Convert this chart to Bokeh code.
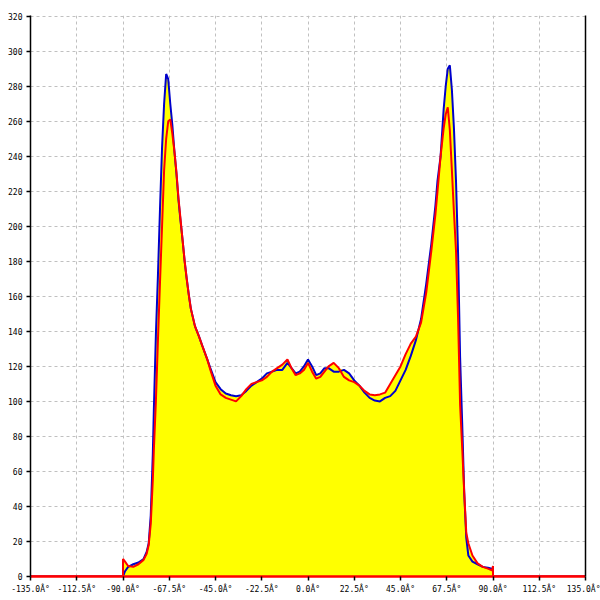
from bokeh.plotting import figure
from bokeh.models import Range1d, FixedTicker, LinearAxis, ColumnDataSource
from bokeh.embed import file_html
from bokeh.resources import INLINE

angle = [-135, -90.01, -90, -89, -87.5, -85, -82.5, -80, -78.5, -77.5, -76.5, -75.5, -75,
         -74, -73, -72, -71, -70, -69, -68, -67, -66, -65, -64, -63, -62, -61, -60, -59,
         -58, -57, -55, -53, -51.5, -49, -47.5, -45, -42.5, -40, -37.5, -35, -32.5, -30,
         -27.5, -25, -22.5, -20, -17.5, -15, -12.5, -10, -8, -6, -4, -2, 0, 2, 4, 6, 8,
         10, 12.5, 15, 17.5, 20, 22.5, 25, 27.5, 30, 32.5, 35, 37.5, 40, 42.5, 45, 47.5,
         50, 52.5, 55, 57.5, 60, 62, 63, 64.5, 66, 67, 68, 69, 70, 71, 72, 73, 74, 75,
         76, 77, 78, 80, 82.5, 85, 87.5, 89.5, 90, 90.01, 135]

blue = [0, 0, 0, 3, 5.5, 7, 8, 10, 14, 19, 35, 70, 95,
        138, 172, 210, 245, 270, 287, 284, 270, 258, 243, 230, 215, 203, 192, 180, 170,
        161, 153, 143, 137, 132, 124, 119, 111, 107, 104.5, 103.5, 103, 103.5, 106,
        109, 111, 113, 116, 117, 118, 118, 122, 119, 116, 117, 120, 124, 120, 115, 116, 119,
        119, 117, 117, 118, 116, 112, 109, 105, 102, 100.5, 100, 102, 103, 106, 112, 118,
        126, 135, 147, 167, 190, 212, 226, 240, 267, 280, 290, 292, 278, 256, 226, 185, 125, 88,
        48, 22, 12, 8.5, 7, 5.5, 5, 4.5, 3, 0, 0]

red = [0, 0, 10, 8.5, 6, 5.5, 7, 9.5, 13, 18, 30, 55, 72,
       100, 135, 168, 200, 232, 250, 260, 261, 253, 243, 231, 216, 204, 192, 180, 170,
       161, 153, 143, 137, 132, 124, 118, 109, 104, 102, 101, 100, 103, 107,
       110, 111, 112, 114, 117, 119, 121, 124, 119, 115, 116, 118, 122, 117, 113, 114, 117,
       120, 122, 119, 114, 112, 111, 109, 106, 104, 103.5, 104, 105, 110, 115, 120, 127,
       133, 137, 145, 162, 186, 207, 220, 240, 256, 264, 268, 255, 232, 208, 186, 148, 98, 74,
       48, 25, 19, 12, 7.5, 5.5, 4.5, 3.5, 6, 0, 0]

fill = [0, 0, 10, 8.5, 6, 7, 8, 10, 14, 19, 35, 70, 95,
        138, 172, 210, 245, 270, 287, 284, 270, 258, 243, 231, 216, 204, 192, 180, 170,
        161, 153, 143, 137, 132, 124, 119, 111, 107, 104.5, 103.5, 103, 103.5, 107,
        110, 111, 113, 116, 117, 119, 121, 124, 119, 116, 117, 120, 124, 120, 115, 116, 119,
        120, 122, 119, 118, 116, 112, 109, 106, 104, 103.5, 104, 105, 110, 115, 120, 127,
        133, 137, 147, 167, 190, 212, 226, 240, 267, 280, 290, 292, 278, 256, 226, 185, 125, 88,
        48, 25, 19, 12, 7.5, 5.5, 5, 4.5, 6, 0, 0]

x_ticks = [-135.0, -112.5, -90.0, -67.5, -45.0, -22.5, 0.0, 22.5, 45.0, 67.5, 90.0, 112.5, 135.0]
x_tick_labels = ["-135.0Â°", "-112.5Â°", "-90.0Â°", "-67.5Â°", "-45.0Â°", "-22.5Â°", "0.0Â°",
                 "22.5Â°", "45.0Â°", "67.5Â°", "90.0Â°", "112.5Â°", "135.0Â°"]
y_ticks = [0, 20, 40, 60, 80, 100, 120, 140, 160, 180, 200, 220, 240, 260, 280, 300, 320]

src = ColumnDataSource(dict(angle=angle, blue=blue, red=red, fill=fill))

p = figure(width=600, height=600, output_backend="svg", toolbar_location=None,
           x_range=Range1d(-135, 135), y_range=Range1d(0, 320.4),
           min_border_left=30, min_border_right=15, min_border_top=15, min_border_bottom=24)
p.outline_line_color = None
p.background_fill_color = "white"
p.border_fill_color = "white"

p.varea(x="angle", y1=0, y2="fill", source=src, fill_color="#ffff00")
p.line(x="angle", y="blue", source=src, line_color="#0000cc", line_width=2)
p.line(x="angle", y="red", source=src, line_color="#ff0000", line_width=2)

p.xaxis.ticker = FixedTicker(ticks=x_ticks)
p.xaxis.major_label_overrides = dict(zip(x_ticks, x_tick_labels))
p.yaxis.ticker = FixedTicker(ticks=y_ticks)
for ax in (p.xaxis[0], p.yaxis[0]):
    ax.major_label_text_font = "DejaVu Sans Mono"
    ax.major_label_text_font_size = "8px"
    ax.major_label_text_color = "black"
    ax.major_label_standoff = 4
    ax.major_tick_out = 4
    ax.major_tick_in = 0
    ax.minor_tick_out = 0
    ax.minor_tick_in = 0
    ax.axis_line_color = "black"
    ax.axis_line_width = 1.5
    ax.major_tick_line_width = 1.5
    ax.major_tick_line_color = "black"
# the red series runs along zero and covers the bottom axis line
p.xaxis[0].axis_line_color = "#ff0000"
p.xaxis[0].axis_line_width = 2.5

right = LinearAxis(ticker=FixedTicker(ticks=[]), major_label_text_font_size="0px",
                   major_tick_out=0, major_tick_in=0, minor_tick_out=0, minor_tick_in=0,
                   major_label_standoff=0, axis_line_color="black", axis_line_width=1.5)
p.add_layout(right, "right")

p.xgrid.ticker = FixedTicker(ticks=x_ticks)
p.ygrid.ticker = FixedTicker(ticks=y_ticks)
for g in (p.xgrid[0], p.ygrid[0]):
    g.grid_line_color = "#c0c0c0"
    g.grid_line_dash = "3 3"
    g.grid_line_width = 1

open("out.html", "w").write(file_html(p, INLINE))
